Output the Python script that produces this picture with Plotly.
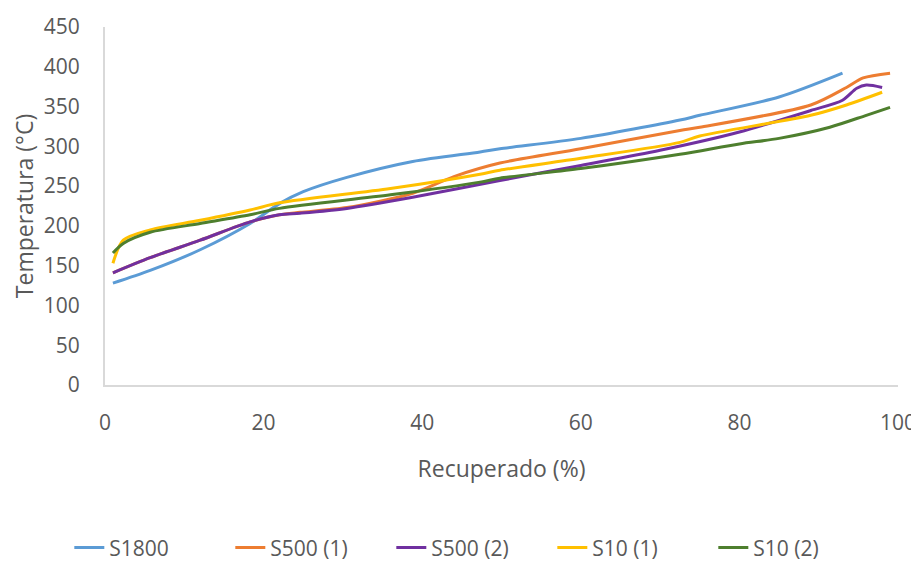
import plotly.graph_objects as go

s1800_x = [1, 5.7, 12, 18.3, 22, 25, 30.5, 38.8, 47.3, 49.8, 60, 72.5, 75, 85, 93]
s1800_y = [128, 144, 170, 203, 228, 243, 261, 281, 293, 297, 310, 333, 339, 362, 392]

s500_1_x = [1, 5.7, 12, 18.3, 22, 24.6, 30.5, 38.8, 44, 49.8, 60, 72.5, 75, 89, 93.5, 95.6, 99]
s500_1_y = [141, 160, 182, 205, 214, 217, 223, 241, 262, 279, 297, 320, 324, 352, 374, 386, 392]

s500_2_x = [1, 5.7, 12, 18.3, 22, 24.6, 30.5, 38.8, 49.8, 60, 70, 80, 89, 93, 94.8, 96, 98]
s500_2_y = [141, 160, 182, 205, 214, 216, 222, 236, 257, 276, 295, 318, 345, 358, 373, 377, 374]

s10_1_x = [1, 2.3, 5.7, 12, 18.3, 22, 36, 47.3, 49.8, 60, 72.5, 75, 89, 93.5, 98]
s10_1_y = [153, 182, 195, 207, 220, 229, 247, 265, 270, 285, 305, 313, 339, 352, 368]

s10_2_x = [1, 2.3, 5.7, 12, 18.3, 22, 36, 47.3, 49.8, 60, 72.5, 80, 85, 91.4, 96, 99]
s10_2_y = [166, 178, 192, 203, 214, 222, 239, 255, 260, 272, 290, 303, 310, 324, 339, 349]

names = ["S1800", "S500 (1)", "S500 (2)", "S10 (1)", "S10 (2)"]
colors = ["#5B9BD5", "#ED7D31", "#7030A0", "#FFC000", "#4E7F2E"]
xs = [s1800_x, s500_1_x, s500_2_x, s10_1_x, s10_2_x]
ys = [s1800_y, s500_1_y, s500_2_y, s10_1_y, s10_2_y]

FONT = "Open Sans, sans-serif"
GRAY = "#595959"

fig = go.Figure()
for n, c, x, y in zip(names, colors, xs, ys):
    fig.add_trace(go.Scatter(x=x, y=y, name=n, mode="lines",
                             line=dict(color=c, width=3, shape="spline", smoothing=0.8)))

fig.update_layout(
    width=919, height=567,
    margin=dict(l=97, r=29, t=19, b=190, autoexpand=False),
    paper_bgcolor="white", plot_bgcolor="white",
    font=dict(family=FONT, color=GRAY, size=21),
    showlegend=True,
    legend=dict(orientation="h", x=-0.045, xanchor="left", y=-0.455, yanchor="middle",
                font=dict(size=21, color=GRAY), entrywidth=116,
                traceorder="normal"),
    xaxis=dict(range=[0, 100], dtick=20, showgrid=False, zeroline=False,
               showline=True, linecolor="#D9D9D9", linewidth=2, automargin=False,
               ticks="", ticklabelstandoff=18,
               title=dict(text="Recuperado (%)", font=dict(size=23, color=GRAY), standoff=26)),
    yaxis=dict(range=[0, 450], dtick=50, showgrid=False, zeroline=False,
               showline=True, linecolor="#D9D9D9", linewidth=2, automargin=False,
               ticks="", ticklabelstandoff=19,
               title=dict(text="Temperatura (°C)", font=dict(size=23, color=GRAY), standoff=8)),
)

fig.write_html("out.html")
